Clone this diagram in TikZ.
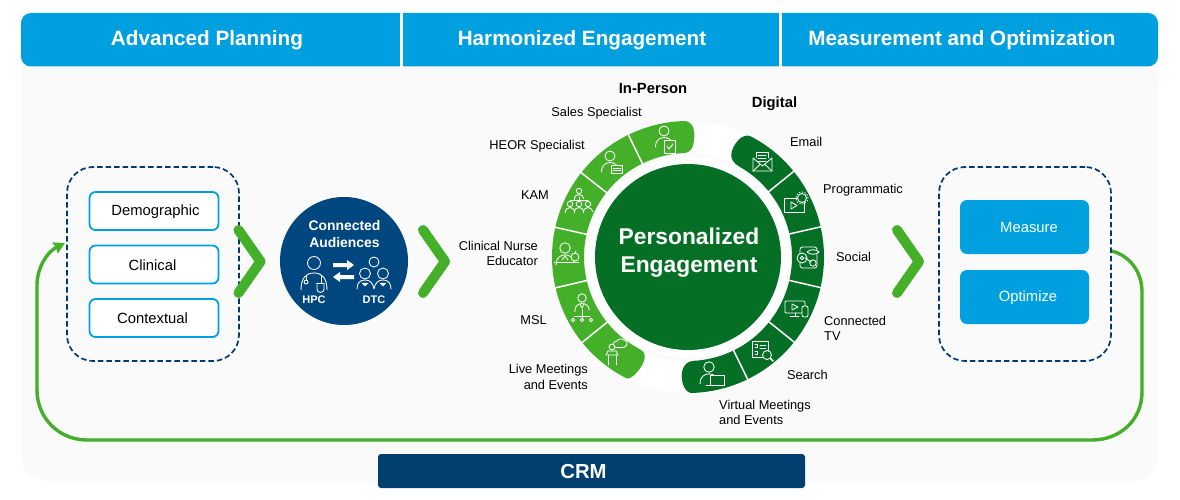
\documentclass[tikz,border=0pt]{standalone}
\usepackage{fontspec}
\setmainfont{Liberation Sans}
\usetikzlibrary{arrows.meta,calc}
\definecolor{hblue}{HTML}{00A0E0}
\definecolor{navy}{HTML}{00477F}
\definecolor{crmnavy}{HTML}{003F6F}
\definecolor{dashnavy}{HTML}{003A70}
\definecolor{lgreen}{HTML}{44B02A}
\definecolor{dgreen}{HTML}{056F26}
\definecolor{panel}{HTML}{FAFAFA}
\tikzset{
  header/.style={text=white,font=\fontsize{20.7}{24}\selectfont\bfseries,anchor=center,inner sep=0pt},
  dashbox/.style={draw=dashnavy,line width=1.7pt,dash pattern=on 5.5pt off 3pt,rounded corners=26pt,minimum width=172pt,minimum height=194pt,inner sep=0pt},
  attr/.style={draw=hblue,fill=white,line width=1.8pt,rounded corners=6pt,minimum width=129pt,minimum height=38pt,inner sep=0pt},
  act/.style={fill=hblue,rounded corners=7pt,minimum width=129pt,minimum height=54pt,inner sep=0pt},
  bodytxt/.style={font=\fontsize{14.8}{17}\selectfont,inner sep=0pt},
  chev/.style={draw=lgreen,line width=10pt,line cap=round,line join=round},
  lab/.style={font=\fontsize{12.8}{15.6}\selectfont,inner sep=0pt,align=left},
  labr/.style={font=\fontsize{12.8}{15.6}\selectfont,inner sep=0pt,align=right},
  ttl/.style={font=\fontsize{14.8}{17}\selectfont\bfseries,inner sep=0pt},
  audt/.style={text=white,font=\fontsize{13.9}{16}\selectfont\bfseries,inner sep=0pt},
  audm/.style={text=white,font=\fontsize{11}{12}\selectfont\bfseries,inner sep=0pt},
  ic/.style={draw=white,line width=.85pt,line cap=round,line join=round},
}
% filled ring segment, angles in degrees
\newcommand\RingSeg[3]{\fill[#3] (#1:136) arc[start angle=#1,end angle=#2,radius=136pt] -- (#2:104) arc[start angle=#2,end angle=#1,radius=104pt] -- cycle;}
\newcommand\Sep[1]{\draw[white,line width=1.5pt] (#1:102) -- (#1:138);}
\newcommand\Person[3]{\begin{scope}[shift={(#1,-#2)},scale=#3]
  \draw[ic] (0,0) circle (5);
  \draw[ic] (-8.5,-16) .. controls (-8.5,-9) and (-4,-6.5) .. (0,-6.5) .. controls (4,-6.5) and (8.5,-9) .. (8.5,-14);
\end{scope}}
\begin{document}
\begin{tikzpicture}[x=1pt,y=1pt]
\useasboundingbox (0,0) rectangle (1180,-500);
\fill[white] (0,0) rectangle (1180,-500);
% panel
\fill[panel] (21,-40) rectangle (1158,-456) ;
\fill[panel,rounded corners=26pt] (21,-300) rectangle (1158,-481);
% header
\fill[hblue,rounded corners=10pt] (21,-13) rectangle (1158,-66.5);
\node[header] (h1) at (207,-40) {Advanced Planning};
\node[header] (h2) at (582,-40) {Harmonized Engagement};
\node[header] (h3) at (962,-40) {Measurement and Optimization};
\fill[white] (400,-13) rectangle (403,-67);
\fill[white] (779,-13) rectangle (782,-67);
% CRM
\node[fill=crmnavy,rounded corners=3pt,minimum width=427pt,minimum height=34pt,inner sep=0pt] (crm) at (591.5,-471) {};
\node[text=white,font=\fontsize{20.3}{24}\selectfont\bfseries,inner sep=0pt] (crmt) at (583.5,-471.5) {CRM};
% left group
\node[dashbox] (lb) at (153,-264) {};
\node[attr] (a1) at (154,-211) {};
\node[attr] (a2) at (154,-264.5) {};
\node[attr] (a3) at (154,-318) {};
\node[bodytxt] (a1t) at (155.5,-211.5) {Demographic};
\node[bodytxt] (a2t) at (152.5,-265.5) {Clinical};
\node[bodytxt] (a3t) at (152.5,-318.5) {Contextual};
% right group
\node[dashbox] (rb) at (1025,-264) {};
\node[act] (m1) at (1024.5,-227) {};
\node[act] (m2) at (1024.5,-297) {};
\node[bodytxt,text=white] (m1t) at (1029,-227.5) {Measure};
\node[bodytxt,text=white] (m2t) at (1028,-297.5) {Optimize};
% CRM loop
\coordinate (ls) at (1112,-251);
\coordinate (le) at (65,-243);
\draw[draw=lgreen,line width=3.4pt,-{Stealth[length=11pt,width=12pt,inset=1pt]}]
  (ls) .. controls (1130,-256) and (1142,-272) .. (1142,-292)
  -- (1142,-392) .. controls (1142,-420) and (1120,-440) .. (1092,-440)
  -- (87,-440) .. controls (59,-440) and (37,-418) .. (37,-390)
  -- (37,-285) .. controls (37,-268) and (47,-252) .. (le);
% chevrons
\draw[chev] (238.5,-230) -- (260.5,-261.5) -- (238.5,-293);
\draw[chev] (423,-230) -- (445,-261.5) -- (423,-293);
\draw[chev] (897,-230) -- (919,-261.5) -- (897,-293);
% audiences
\node[circle,fill=navy,minimum size=128pt,inner sep=0pt] (aud) at (344,-261) {};
\node[audt] (aud1) at (344.5,-225.5) {Connected};
\node[audt] (aud2) at (344.5,-242.5) {Audiences};
\node[audm] (hpc) at (314,-299.5) {HPC};
\node[audm] (dtc) at (374,-299.5) {DTC};
\begin{scope}[shift={(314,-263)}]
  \draw[ic] (0,0) circle (6.5);
  \draw[ic] (-13,-27) .. controls (-13,-15) and (-8,-10) .. (0,-10) .. controls (8,-10) and (13,-15) .. (13,-27);
  \draw[ic] (-8,-12) -- (-8,-17); \draw[ic] (-8,-19) circle (2);
  \draw[ic] (7,-12) -- (7,-20) ; \draw[ic] (3,-20) -- (3,-26) arc[start angle=180,end angle=360,radius=3.5pt] -- (10,-20);
  \draw[ic] (3,-20) -- (10,-20);
\end{scope}
\begin{scope}[shift={(374,-262)}]
  \draw[ic] (0,0) circle (5);
  \draw[ic] (-9,-11.5) circle (5.5);
  \draw[ic] (9,-11.5) circle (5.5);
  \draw[ic] (-17,-27) .. controls (-17,-21) and (-14,-18) .. (-9,-18) .. controls (-4,-18) and (-1,-21) .. (0,-27) .. controls (1,-21) and (4,-18) .. (9,-18) .. controls (14,-18) and (17,-21) .. (17,-27);
  \draw[white,fill=white] (-9,-24) -- (-12,-21) -- (-6,-21) -- cycle;
  \draw[white,fill=white] (9,-24) -- (6,-21) -- (12,-21) -- cycle;
\end{scope}
\fill[white] (333,-263) -- (347,-263) -- (347,-260) -- (354,-265) -- (347,-270) -- (347,-267) -- (333,-267) -- cycle;
\fill[white] (354,-275) -- (340,-275) -- (340,-272) -- (333,-277) -- (340,-282) -- (340,-279) -- (354,-279) -- cycle;
% ring
\begin{scope}[shift={(688,-257)}]
  \fill[white] (0,0) circle (136);
  \fill[panel] (0,0) circle (104);
  \fill[white] (0,0) circle (101);
  \RingSeg{116}{218.9}{lgreen}
  % In-person end caps
  \fill[lgreen] (116:136) arc[start angle=116,end angle=92,radius=136pt]
     .. controls (88.5:136.5) and (87:130) .. (87:120) .. controls (87:110) and (88.5:104) .. (92:104)
     arc[start angle=92,end angle=116,radius=104pt] -- cycle;
  \fill[lgreen] (218.9:136) arc[start angle=218.9,end angle=243,radius=136pt]
     .. controls (245:136.5) and (247.5:122) .. (247:112) .. controls (246.5:106) and (245:104) .. (242:104)
     arc[start angle=242,end angle=218.9,radius=104pt] -- cycle;
  % Digital
  \RingSeg{-64}{39}{dgreen}
  \fill[dgreen] (39:136) arc[start angle=39,end angle=62,radius=136pt]
     .. controls (65:137) and (68:128) .. (67.5:114) .. controls (67:107) and (64:104) .. (60:104)
     arc[start angle=60,end angle=39,radius=104pt] -- cycle;
  \fill[dgreen] (-64:136) arc[start angle=-64,end angle=-88,radius=136pt]
     .. controls (-91:137) and (-93.5:126) .. (-93:115) .. controls (-92.5:108) and (-90:104) .. (-87:104)
     arc[start angle=-87,end angle=-64,radius=104pt] -- cycle;
  \Sep{116}\Sep{141.7}\Sep{167.4}\Sep{193.1}\Sep{218.9}
  \Sep{39}\Sep{12.8}\Sep{-13}\Sep{-38.7}\Sep{-64}
\end{scope}
\node[circle,fill=dgreen,minimum size=186pt,inner sep=0pt] (core) at (688,-257) {};
\node[text=white,font=\fontsize{22.8}{28}\selectfont\bfseries,align=center,inner sep=0pt] (coret) at (689,-252.5) {Personalized\\Engagement};
% icons: in-person
\Person{664}{131}{1}
\draw[ic,fill=lgreen] (664,-140) rectangle (675,-153); \draw[ic] (667,-146) -- (669,-149) -- (673,-144); \draw[ic] (667.5,-140) -- (671.5,-140);
\Person{610}{156}{1}
\draw[ic,fill=lgreen] (611,-165) -- (622.5,-165) -- (622.5,-173) -- (611,-173) -- cycle; \draw[ic] (613,-168) -- (621,-168); \draw[ic] (613,-170.5) -- (621,-170.5);
\Person{579}{191}{.55}
\draw[ic] (579,-197) -- (579,-200); \draw[ic] (570,-200) -- (588,-200);
\Person{570}{204}{.55}\Person{579}{204}{.55}\Person{588}{204}{.55}
\Person{565}{248}{1.05}
\draw[ic] (554,-262) -- (579,-262);
\draw[ic,fill=lgreen] (575,-257) circle (4); \draw[ic] (575,-253) -- (576,-251);
\draw[ic] (562,-260) -- (565,-256) -- (568,-260);
\Person{582}{298}{.85}
\draw[ic] (582,-309) -- (582,-318); \draw[ic] (574,-316) -- (590,-316);
\draw[ic] (573,-320) circle (1.8); \draw[ic] (582,-320) circle (1.8); \draw[ic] (591,-320) circle (1.8);
\draw[ic] (580,-304) -- (582,-308) -- (584,-304);
\draw[ic] (612,-347) circle (3);
\draw[ic] (606,-355) -- (618,-355) -- (616,-351) -- (608,-351) -- cycle;
\draw[ic] (608,-355) -- (608,-365); \draw[ic] (616,-355) -- (616,-365);
\draw[ic,fill=lgreen] (615,-347) .. controls (612,-344) and (614,-341) .. (617,-341) .. controls (618,-339) and (622,-338) .. (624,-340) .. controls (627,-340) and (628,-344) .. (626,-346) .. controls (625,-348) and (618,-348) .. (615,-347) -- cycle;
% icons: digital
\draw[ic] (756,-158) -- (756,-152) -- (768,-152) -- (768,-158);
\draw[ic] (758,-155) -- (766,-155); \draw[ic] (758,-158) -- (766,-158); \draw[ic] (758,-161) -- (766,-161);
\draw[ic] (753,-158) -- (753,-171) -- (772,-171) -- (772,-158) -- (762.5,-166) -- cycle;
\draw[ic] (753,-171) -- (760,-164.5); \draw[ic] (772,-171) -- (765,-164.5);
\draw[ic] (784,-198) rectangle (804,-212);
\draw[ic] (791,-202) -- (791,-209) -- (797,-205.5) -- cycle;
\draw[ic,fill=dgreen] (802,-198) circle (4.5);
\draw[ic,dotted] (802,-198) circle (6);
\draw[ic,rounded corners=2.5pt] (800,-247) rectangle (817,-268);
\draw[ic,fill=dgreen] (802,-258) circle (5); \draw[ic] (802,-258) circle (1.8);
\draw[ic,fill=dgreen] (813,-263) circle (3.2);
\draw[ic,fill=dgreen] (807,-252) .. controls (810,-255) and (816,-255) .. (819,-252) .. controls (816,-249) and (810,-249) .. (807,-252) -- cycle;
\draw[ic] (805,-258) -- (811,-262);
\draw[ic,rounded corners=1pt] (785,-301) rectangle (805,-313);
\draw[ic] (792,-304) -- (792,-310) -- (798,-307) -- cycle;
\draw[ic] (795,-313) -- (795,-316); \draw[ic] (790,-316) -- (799,-316);
\draw[ic,fill=dgreen,rounded corners=2pt] (802,-306) rectangle (808,-317);
\draw[ic] (752,-341) rectangle (768,-357);
\draw[ic] (760,-345) -- (766,-345); \draw[ic] (760,-348) -- (766,-348);
\draw[ic] (755,-344) -- (757,-344) -- (757,-347) -- (755,-347); \draw[ic] (755,-351) -- (757,-351) -- (757,-354) -- (755,-354);
\draw[ic,fill=dgreen] (767,-355) circle (4.5);
\draw[white,line width=1.6pt,line cap=round] (770.5,-358.5) -- (773,-361);
\Person{709}{367}{1.05}
\draw[ic,fill=dgreen] (710,-375) rectangle (724,-385);
\draw[ic] (706,-385) -- (724,-385);
% ring labels
\node[ttl] (ip) at (653,-88.5) {In-Person};
\node[ttl] (dg) at (774.5,-103.5) {Digital};
\node[labr,anchor=east] (l1) at (642,-113.5) {Sales Specialist};
\node[labr,anchor=east] (l2) at (585,-146.5) {HEOR Specialist};
\node[labr,anchor=east] (l3) at (549,-195.5) {KAM};
\node[labr,anchor=east] (l4) at (538,-253.5) {Clinical Nurse\\Educator};
\node[labr,anchor=east] (l5) at (547,-320.5) {MSL};
\node[labr,anchor=east] (l6) at (588,-377) {Live Meetings\\and Events};
\node[lab,anchor=west] (r1) at (790,-141.5) {Email};
\node[lab,anchor=west] (r2) at (823,-190.5) {Programmatic};
\node[lab,anchor=west] (r3) at (836,-256.5) {Social};
\node[lab,anchor=west] (r4) at (824,-328.5) {Connected\\TV};
\node[lab,anchor=west] (r5) at (787,-374.5) {Search};
\node[lab,anchor=west] (r6) at (719,-412.5) {Virtual Meetings\\and Events};
\end{tikzpicture}
\end{document}
